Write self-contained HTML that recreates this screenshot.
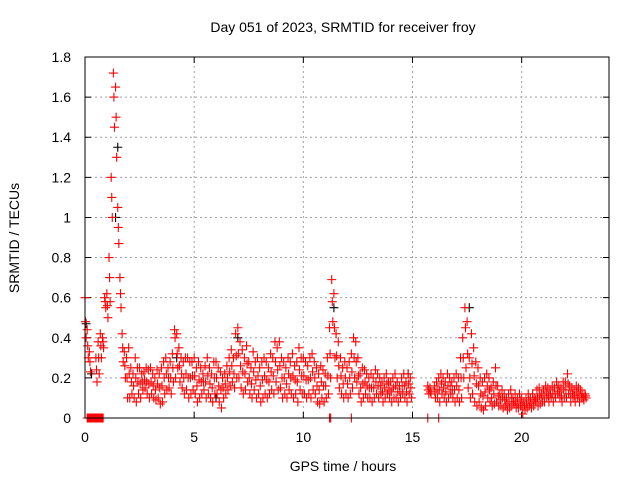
<!DOCTYPE html>
<html><head><meta charset="utf-8"><style>
body{margin:0;background:#fff;}
svg text{font-family:"Liberation Sans",sans-serif;font-size:14px;fill:#000;}
</style></head><body>
<svg id="chart" width="640" height="480" xmlns="http://www.w3.org/2000/svg">
<text x="343" y="32" text-anchor="middle">Day 051 of 2023, SRMTID for receiver froy</text>
<text x="343" y="471" text-anchor="middle">GPS time / hours</text>
<text transform="translate(19,238) rotate(-90)" text-anchor="middle">SRMTID / TECUs</text>
<g id="grid"></g><g id="ticks"></g><g id="marks"></g>
<rect x="85" y="57" width="524" height="361" fill="none" stroke="#000" stroke-width="1"/>
</svg>
<script>
const xTicks=[0,5,10,15,20];
const yTicks=[0,0.2,0.4,0.6,0.8,1,1.2,1.4,1.6,1.8];
const yTickLabels=["0","0.2","0.4","0.6","0.8","1","1.2","1.4","1.6","1.8"];
const hiVals=[.60,.44,.33,null,null,.30,.38,.42,.40,.60,
.62,.80,1.20,1.72,1.65,1.05,.70,.42,.33,.30,
.35,.25,.22,.30,.25,.25,.22,.23,.25,.24,
.25,.22,.20,.24,.22,.25,.28,.30,.25,.28,
.32,.44,.42,.35,.30,.28,.30,.30,.28,.28,
.30,.25,.28,.25,.22,.26,.30,.25,.22,.28,
.28,.25,.23,.20,.22,.26,.30,.34,.30,.42,
.45,.38,.34,.30,.36,.28,.25,.33,.28,.30,
.25,.28,.30,.28,.25,.32,.30,.38,.35,.38,
.30,.28,.25,.30,.28,.32,.26,.28,.35,.30,
.30,.28,.26,.30,.32,.28,.25,.22,.26,.24,
.22,.30,.45,.69,.62,.42,.38,.30,.25,.28,
.25,.28,.32,.40,.38,.30,.22,.25,.24,.22,
.20,.22,.20,.24,.22,.20,.18,.20,.22,.18,
.18,.20,.22,.18,.16,.20,.22,.18,.22,.20,
null,null,null,null,null,null,null,.16,.15,null,
.16,.18,.20,.22,.20,.18,.22,.20,.18,.20,
.22,.20,.30,.40,.55,.48,.30,.42,.35,.28,
.25,.20,.18,.20,.22,.20,.15,.18,.25,.16,
.12,.14,.12,.10,.12,.14,.10,.12,.10,.12,
.10,.08,.10,.12,.10,.12,.10,.14,.15,.12,
.14,.16,.15,.14,.16,.15,.18,.16,.15,.18,
.18,.22,.16,.15,.14,.16,.15,.14,.12,.12];
const midVals=[.48,.36,.28,null,null,.24,.30,.36,.38,.58,
.56,.70,1.10,1.60,1.50,.95,.62,.35,.26,.20,
.22,.18,.16,.20,.18,.17,.18,.19,.18,.17,
.18,.16,.14,.17,.15,.16,.20,.22,.20,.20,
.25,.40,.32,.26,.22,.20,.22,.20,.20,.21,
.21,.16,.19,.18,.18,.18,.21,.17,.15,.20,
.20,.16,.14,.15,.17,.20,.23,.26,.22,.31,
.32,.26,.23,.22,.27,.20,.17,.23,.19,.21,
.16,.19,.21,.19,.18,.23,.21,.28,.24,.26,
.20,.20,.17,.22,.20,.21,.19,.18,.24,.21,
.21,.19,.19,.20,.23,.20,.16,.14,.18,.16,
.16,.21,.32,.58,.45,.31,.26,.21,.17,.20,
.17,.20,.23,.30,.28,.21,.15,.17,.18,.16,
.15,.15,.15,.18,.16,.16,.13,.15,.17,.14,
.13,.15,.16,.13,.13,.16,.16,.13,.17,.15,
null,null,null,null,null,null,null,.14,.13,null,
.13,.14,.14,.17,.15,.13,.16,.16,.14,.14,
.16,.14,.20,.30,.45,.32,.20,.27,.21,.17,
.16,.12,.11,.13,.16,.14,.10,.12,.16,.11,
.09,.10,.09,.07,.08,.10,.08,.08,.07,.09,
.06,.06,.07,.09,.07,.09,.09,.10,.11,.10,
.11,.13,.11,.12,.12,.12,.15,.13,.11,.14,
.14,.17,.12,.12,.11,.13,.11,.12,.10,.11];
const loVals=[.40,.30,.23,null,null,.18,.22,.30,.35,.55,
.50,.58,1.00,1.45,1.30,.87,.55,.28,.20,.10,
.10,.12,.10,.08,.12,.10,.14,.15,.12,.10,
.12,.10,.09,.10,.07,.08,.12,.14,.15,.12,
.18,.20,.25,.18,.15,.12,.14,.10,.12,.14,
.12,.08,.10,.12,.14,.10,.12,.10,.08,.12,
.12,.08,.05,.10,.12,.14,.16,.18,.15,.20,
.20,.15,.12,.14,.18,.12,.10,.14,.10,.12,
.08,.10,.12,.10,.12,.14,.12,.18,.14,.15,
.10,.12,.10,.14,.12,.10,.12,.08,.14,.12,
.12,.10,.12,.10,.14,.12,.08,.07,.10,.08,
.10,.12,.20,.48,.30,.20,.15,.12,.10,.12,
.10,.12,.15,.20,.18,.12,.08,.10,.12,.10,
.10,.08,.10,.12,.10,.12,.08,.10,.12,.10,
.08,.10,.10,.08,.10,.12,.10,.08,.12,.10,
null,null,null,null,null,null,null,.12,.12,null,
.10,.10,.08,.12,.10,.08,.10,.12,.10,.08,
.10,.08,.10,.20,.25,.15,.10,.12,.08,.06,
.08,.05,.04,.06,.10,.08,.06,.07,.08,.06,
.06,.05,.06,.04,.05,.06,.07,.05,.05,.06,
.02,.04,.05,.06,.05,.06,.08,.06,.07,.08,
.08,.10,.08,.10,.08,.10,.12,.10,.08,.10,
.10,.12,.08,.10,.08,.10,.08,.10,.09,.10];
const sampleStep=0.1;
const zeroTimes=[0.1,0.13,0.16,0.2,0.23,0.26,0.3,0.33,0.36,0.4,0.43,0.46,0.5,0.53,0.56,0.6,0.63,0.66,0.7,0.73,0.76,0.8,0.83,11.2,11.25,12.2,15.7,16.2];
const blackTimes=[0.05,0.3,1.4,1.5,4.2,6.0,7.0,11.4,14.8,17.6];
const blackVals=[0.47,0.22,1.0,1.35,0.3,0.1,0.4,0.55,0.22,0.55];
const X0=85,X1=609,Y0=418,Y1=57,XMAX=24,YMAX=1.8;
const xs=v=>X0+(X1-X0)*v/XMAX, ys=v=>Y0-(Y0-Y1)*v/YMAX;
const NS='http://www.w3.org/2000/svg';
function mk(tag,parent,attrs){const e=document.createElementNS(NS,tag);for(const k in attrs)e.setAttribute(k,attrs[k]);parent.appendChild(e);return e;}
const grid=document.getElementById('grid'),ticks=document.getElementById('ticks'),marks=document.getElementById('marks');
xTicks.forEach(t=>{const x=xs(t);
 if(t>0){const g=mk('line',grid,{x1:x,x2:x,y1:Y0,y2:Y1,stroke:'#a0a0a0','stroke-dasharray':'2,3'});
 
 }
 const tk=mk('path',ticks,{d:`M${x},${Y0}v-6M${x},${Y1}v6`,stroke:'#000'});
 
 
 const l=mk('text',ticks,{x:x,y:Y0+24,'text-anchor':'middle'});l.textContent=String(t);
 
 });
yTicks.forEach((t,i)=>{const y=ys(t);
 if(t>0&&t<YMAX){const g=mk('line',grid,{x1:X0,x2:X1,y1:y,y2:y,stroke:'#a0a0a0','stroke-dasharray':'2,3'});
 
 }
 const tk=mk('path',ticks,{d:`M${X0},${y}h6M${X1},${y}h-6`,stroke:'#000'});
 
 
 const l=mk('text',ticks,{x:X0-14,y:y+5,'text-anchor':'end'});l.textContent=yTickLabels[i];
 
 });
function plus(t,v,col,name){const x=xs(t),y=ys(v);
 const p=mk('path',marks,{d:`M${x-4.5},${y}h9M${x},${y-4.5}v9`,stroke:col,'stroke-width':1.1});
 
 }
blackTimes.forEach((t,i)=>plus(t,blackVals[i],'#000','black-point'));
hiVals.forEach((v,i)=>{if(v!==null)plus(i*sampleStep,v,'#f00','srmtid-point');});
midVals.forEach((v,i)=>{if(v!==null)plus(i*sampleStep+0.025,v,'#f00','srmtid-point');});
loVals.forEach((v,i)=>{if(v!==null)plus(i*sampleStep+0.05,v,'#f00','srmtid-point');});
zeroTimes.forEach(t=>plus(t,0,'#f00','zero-point'));
</script>
</body></html>
